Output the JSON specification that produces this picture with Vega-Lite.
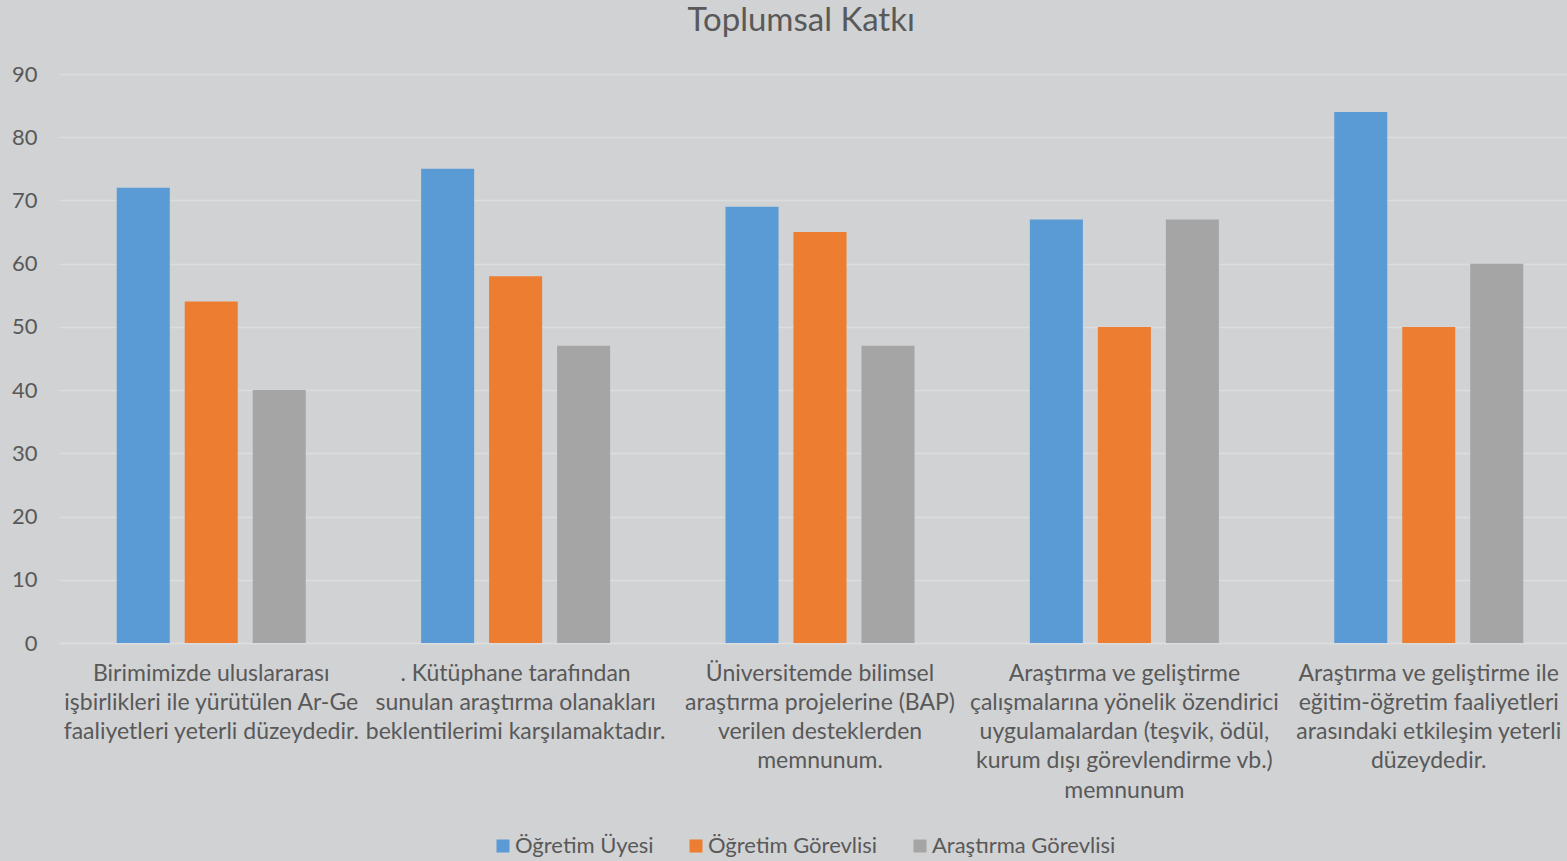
{
  "$schema": "https://vega.github.io/schema/vega-lite/v6.json",
  "autosize": {"type": "none"},
  "padding": {"left": 59, "top": 74, "right": 0, "bottom": 218},
  "width": 1522,
  "height": 569,
  "background": "#d1d2d4",
  "title": {
    "text": "Toplumsal Katkı",
    "fontSize": 33,
    "fontWeight": "normal",
    "font": "Lato",
    "color": "#595959",
    "anchor": "start",
    "dx": 676,
    "offset": 25
  },
  "data": {
    "values": [
      {"soru": "Birimimizde uluslararası\nişbirlikleri ile yürütülen Ar-Ge\nfaaliyetleri yeterli düzeydedir.", "grup": "Öğretim Üyesi", "deger": 72},
      {"soru": "Birimimizde uluslararası\nişbirlikleri ile yürütülen Ar-Ge\nfaaliyetleri yeterli düzeydedir.", "grup": "Öğretim Görevlisi", "deger": 54},
      {"soru": "Birimimizde uluslararası\nişbirlikleri ile yürütülen Ar-Ge\nfaaliyetleri yeterli düzeydedir.", "grup": "Araştırma Görevlisi", "deger": 40},
      {"soru": ". Kütüphane tarafından\nsunulan araştırma olanakları\nbeklentilerimi karşılamaktadır.", "grup": "Öğretim Üyesi", "deger": 75},
      {"soru": ". Kütüphane tarafından\nsunulan araştırma olanakları\nbeklentilerimi karşılamaktadır.", "grup": "Öğretim Görevlisi", "deger": 58},
      {"soru": ". Kütüphane tarafından\nsunulan araştırma olanakları\nbeklentilerimi karşılamaktadır.", "grup": "Araştırma Görevlisi", "deger": 47},
      {"soru": "Üniversitemde bilimsel\naraştırma projelerine (BAP)\nverilen desteklerden\nmemnunum.", "grup": "Öğretim Üyesi", "deger": 69},
      {"soru": "Üniversitemde bilimsel\naraştırma projelerine (BAP)\nverilen desteklerden\nmemnunum.", "grup": "Öğretim Görevlisi", "deger": 65},
      {"soru": "Üniversitemde bilimsel\naraştırma projelerine (BAP)\nverilen desteklerden\nmemnunum.", "grup": "Araştırma Görevlisi", "deger": 47},
      {"soru": "Araştırma ve geliştirme\nçalışmalarına yönelik özendirici\nuygulamalardan (teşvik, ödül,\nkurum dışı görevlendirme vb.)\nmemnunum", "grup": "Öğretim Üyesi", "deger": 67},
      {"soru": "Araştırma ve geliştirme\nçalışmalarına yönelik özendirici\nuygulamalardan (teşvik, ödül,\nkurum dışı görevlendirme vb.)\nmemnunum", "grup": "Öğretim Görevlisi", "deger": 50},
      {"soru": "Araştırma ve geliştirme\nçalışmalarına yönelik özendirici\nuygulamalardan (teşvik, ödül,\nkurum dışı görevlendirme vb.)\nmemnunum", "grup": "Araştırma Görevlisi", "deger": 67},
      {"soru": "Araştırma ve geliştirme ile\neğitim-öğretim faaliyetleri\narasındaki etkileşim yeterli\ndüzeydedir.", "grup": "Öğretim Üyesi", "deger": 84},
      {"soru": "Araştırma ve geliştirme ile\neğitim-öğretim faaliyetleri\narasındaki etkileşim yeterli\ndüzeydedir.", "grup": "Öğretim Görevlisi", "deger": 50},
      {"soru": "Araştırma ve geliştirme ile\neğitim-öğretim faaliyetleri\narasındaki etkileşim yeterli\ndüzeydedir.", "grup": "Araştırma Görevlisi", "deger": 60}
    ]
  },
  "mark": {"type": "bar"},
  "encoding": {
    "x": {
      "field": "soru",
      "type": "nominal",
      "sort": null,
      "title": null,
      "scale": {"paddingInner": 0.379, "paddingOuter": 0.1897},
      "axis": {
        "labelAngle": 0,
        "labelExpr": "split(datum.label, '\\n')",
        "labelFont": "Lato",
        "labelFontSize": 23,
        "labelLineHeight": 29.3,
        "labelColor": "#595959",
        "labelPadding": 19,
        "labelLimit": 0,
        "labelOverlap": false,
        "ticks": false,
        "domain": true,
        "domainColor": "#dcdddf",
        "domainWidth": 1.5,
        "grid": false
      }
    },
    "xOffset": {
      "field": "grup",
      "type": "nominal",
      "sort": ["Öğretim Üyesi", "Öğretim Görevlisi", "Araştırma Görevlisi"],
      "scale": {"paddingInner": 0.22, "paddingOuter": 0}
    },
    "y": {
      "field": "deger",
      "type": "quantitative",
      "title": null,
      "scale": {"domain": [0, 90]},
      "axis": {
        "values": [0, 10, 20, 30, 40, 50, 60, 70, 80, 90],
        "labelFont": "Lato",
        "labelFontSize": 22,
        "labelColor": "#595959",
        "labelPadding": 22,
        "ticks": false,
        "domain": false,
        "gridColor": "#dcdddf",
        "gridWidth": 1.5
      }
    },
    "color": {
      "field": "grup",
      "type": "nominal",
      "sort": ["Öğretim Üyesi", "Öğretim Görevlisi", "Araştırma Görevlisi"],
      "scale": {
        "domain": ["Öğretim Üyesi", "Öğretim Görevlisi", "Araştırma Görevlisi"],
        "range": ["#5b9bd5", "#ed7d31", "#a5a5a5"]
      },
      "legend": {
        "title": null,
        "orient": "none",
        "legendX": 433,
        "legendY": 761,
        "direction": "horizontal",
        "symbolType": "square",
        "symbolSize": 169,
        "symbolStrokeWidth": 0,
        "labelFont": "Lato",
        "labelFontSize": 22,
        "labelColor": "#595959",
        "labelOffset": 1,
        "labelLimit": 0,
        "columnPadding": 31
      }
    }
  },
  "config": {
    "view": {"stroke": null}
  }
}
